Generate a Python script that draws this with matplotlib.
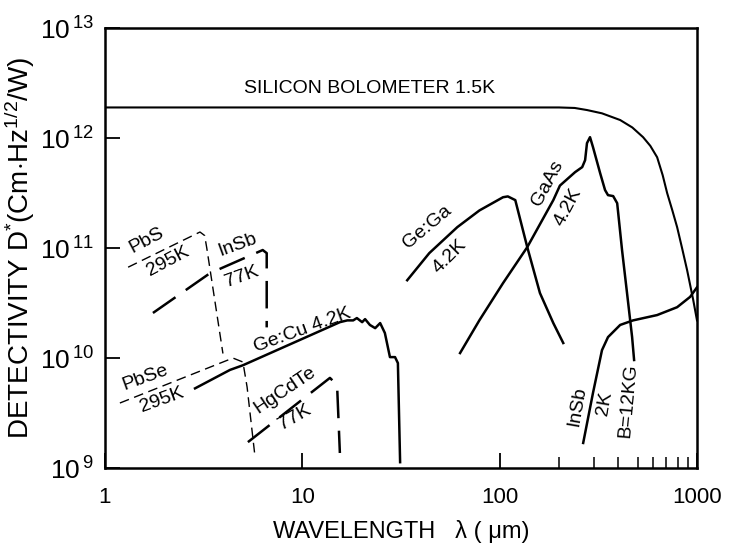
import math
import matplotlib
matplotlib.use("Agg")
import matplotlib.pyplot as plt
from matplotlib.ticker import FixedLocator, NullLocator, FuncFormatter

plt.rcParams['font.family'] = ['Liberation Sans', 'DejaVu Sans']
plt.rcParams['mathtext.fontset'] = 'custom'
plt.rcParams['mathtext.rm'] = 'Liberation Sans'
plt.rcParams['mathtext.it'] = 'Liberation Sans:italic'

# wavelength (um) / detectivity D* (cm Hz^1/2 / W)
si_bolo_wl = [1, 200, 240, 277, 330, 408, 470, 533, 580, 628, 670, 706, 750, 793, 840, 891, 957, 1000]
si_bolo_d = [1.9e12, 1.9e12, 1.88e12, 1.8e12, 1.68e12, 1.46e12, 1.25e12, 1.02e12, 8.5e11, 6.7e11,
             4.6e11, 3.16e11, 2.2e11, 1.55e11, 1.0e11, 6.3e10, 3.37e10, 2.2e10]

pbs_wl = [1.31, 3.03, 3.2, 3.28, 3.96]
pbs_d = [6.7e10, 1.4e11, 1.3e11, 1.0e11, 1.1e10]

insb77_wl = [1.75, 3.4, 6.3, 6.6, 6.6]
insb77_d = [2.57e10, 5.9e10, 9.6e10, 9.0e10, 1.9e10]

pbse_wl = [1.19, 4.45, 5.0, 5.25, 5.76]
pbse_d = [3.9e9, 1.0e10, 9.2e9, 5.45e9, 1.26e9]

hgcdte_wl = [5.3, 13.8, 15.0, 15.5]
hgcdte_d = [1.72e9, 6.6e9, 5.7e9, 1.37e9]

gecu_wl = [2.86, 4.3, 5.0, 15.5, 16.9, 18.1, 18.9, 20.1, 20.8, 22.0, 23.4, 24.8, 26.2, 27.8, 29.5, 30.5, 31.3]
gecu_d = [5.3e9, 7.8e9, 8.6e9, 2.12e10, 2.2e10, 2.2e10, 2.31e10, 2.12e10, 2.26e10, 2.0e10, 1.87e10,
          2.08e10, 1.69e10, 1.02e10, 1.02e10, 9.0e9, 1.13e9]

gega_wl = [34, 44, 61, 79, 104, 110, 120, 138, 160, 187, 210]
gega_d = [5.1e10, 9.0e10, 1.55e11, 2.2e11, 2.9e11, 2.95e11, 2.73e11, 1.02e11, 3.9e10, 2.08e10, 1.37e10]

gaas_wl = [63, 79, 104, 138, 187, 202, 241, 262, 271, 277, 287, 297, 323, 342, 354, 376, 394, 417, 442, 469, 480]
gaas_d = [1.11e10, 2.21e10, 4.8e10, 1.02e11, 2.73e11, 3.7e11, 4.9e11, 5.45e11, 6.3e11, 9.0e11, 1.02e12,
          8.3e11, 4.8e11, 3.37e11, 3.03e11, 2.97e11, 2.56e11, 9.6e10, 3.9e10, 1.55e10, 9.6e9]

insb2k_wl = [265, 297, 330, 354, 408, 474, 628, 793, 923, 1000]
insb2k_d = [1.69e9, 4.8e9, 1.18e10, 1.55e10, 2.0e10, 2.2e10, 2.46e10, 2.9e10, 3.6e10, 4.4e10]

fig = plt.figure(figsize=(7.3, 5.54), dpi=100)
ax = fig.add_axes([0.1438, 0.1552, 0.811, 0.794])
ax.set_xscale('log')
ax.set_yscale('log')
ax.set_xlim(1, 1000)
ax.set_ylim(1e9, 1e13)

ax.plot(si_bolo_wl, si_bolo_d, color='black', lw=1.5)
ax.plot(pbs_wl, pbs_d, color='black', lw=1.0, dashes=(7, 4))
ax.plot(insb77_wl, insb77_d, color='black', lw=1.8, dashes=(11, 5))
ax.plot(pbse_wl, pbse_d, color='black', lw=1.0, dashes=(7, 4))
ax.plot(hgcdte_wl, hgcdte_d, color='black', lw=1.8, dashes=(11, 5))
ax.plot(gecu_wl, gecu_d, color='black', lw=1.8)
ax.plot(gega_wl, gega_d, color='black', lw=1.8)
ax.plot(gaas_wl, gaas_d, color='black', lw=1.8)
ax.plot(insb2k_wl, insb2k_d, color='black', lw=1.8)

# curve labels
lab = dict(fontsize=14, ha='center', va='center')
ax.text(22, 2.85e12, 'SILICON BOLOMETER 1.5K', fontsize=14, ha='center', va='center')
ax.text(1.63, 1.18e11, 'PbS', rotation=28, **lab)
ax.text(2.09, 7.5e10, '295K', rotation=28, **lab)
ax.text(4.72, 1.06e11, 'InSb', rotation=20, **lab)
ax.text(4.95, 5.45e10, '77K', rotation=20, **lab)
ax.text(9.96, 1.8e10, 'Ge:Cu 4.2K', rotation=20, **lab)
ax.text(1.6, 6.6e9, 'PbSe', rotation=20, **lab)
ax.text(1.95, 4.15e9, '295K', rotation=20, **lab)
ax.text(8.2, 5.1e9, 'HgCdTe', rotation=34, **lab)
ax.text(9.2, 2.9e9, '77K', rotation=30, **lab)
ax.text(42.8, 1.55e11, 'Ge:Ga', rotation=40, **lab)
ax.text(56, 8.3e10, '4.2K', rotation=45, **lab)
ax.text(174, 3.9e11, 'GaAs', rotation=62, **lab)
ax.text(222, 2.36e11, '4.2K', rotation=62, **lab)
ax.text(247, 3.6e9, 'InSb', rotation=80, **lab)
ax.text(342, 3.9e9, '2K', rotation=80, **lab)
ax.text(448, 4.15e9, 'B=12KG', rotation=85, **lab)

# axes styling
for s in ax.spines.values():
    s.set_linewidth(1.8)
ax.xaxis.set_major_locator(FixedLocator([1, 10, 100, 1000]))
ax.xaxis.set_minor_locator(FixedLocator([200, 300, 400, 500, 600, 700, 800, 900]))
ax.yaxis.set_major_locator(FixedLocator([1e9, 1e10, 1e11, 1e12, 1e13]))
ax.yaxis.set_minor_locator(NullLocator())
ax.xaxis.set_major_formatter(FuncFormatter(lambda v, p: '%d' % round(v)))
ax.yaxis.set_major_formatter(FuncFormatter(lambda v, p: r'$\mathregular{10^{\,%d}}$' % round(math.log10(v))))
ax.tick_params(which='major', direction='in', length=11, width=1.3, labelsize=16, pad=14)
ax.tick_params(which='minor', direction='in', length=8, width=1.1)
ax.tick_params(axis='y', labelsize=19, pad=8)

ax.set_xlabel('WAVELENGTH   λ ( μm)', fontsize=17, labelpad=8)
ax.set_ylabel(r'DETECTIVITY D$^{*}$(Cm$\cdot$Hz$^{1/2}$/W)', fontsize=20, labelpad=2)

plt.savefig('out.png', dpi=100)
